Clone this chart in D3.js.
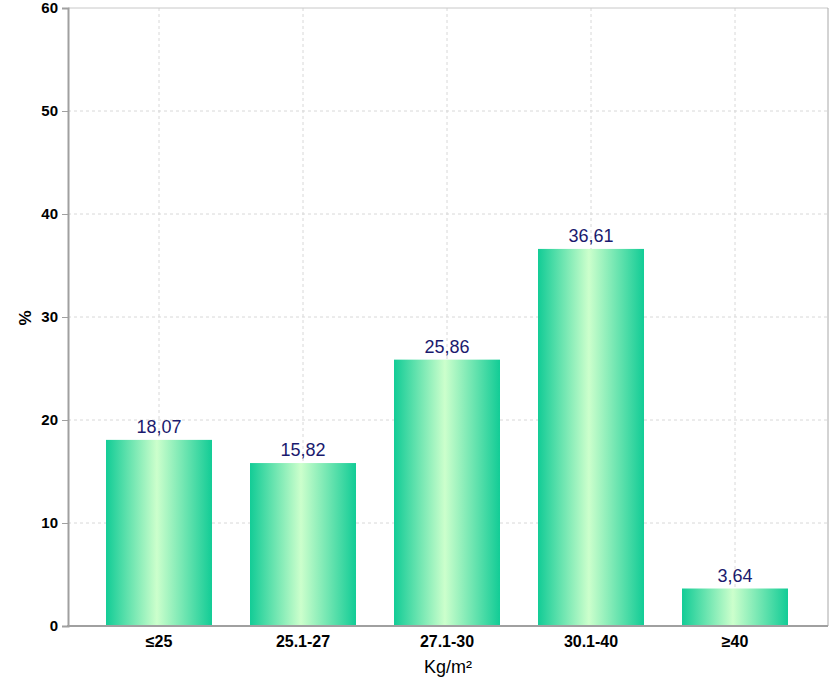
<!DOCTYPE html>
<html><head><meta charset="utf-8">
<script src="https://cdn.jsdelivr.net/npm/d3@7"></script>
<style>body{margin:0;background:#fff}text{font-family:"Liberation Sans",Arial,sans-serif}</style>
</head><body>
<svg id="c" width="838" height="690"></svg>
<script>
const categories = ["≤25","25.1-27","27.1-30","30.1-40","≥40"];
const values = [18.07,15.82,25.86,36.61,3.64];
const valueLabels = ["18,07","15,82","25,86","36,61","3,64"];
const yTicks = [0,10,20,30,40,50,60];

const svg = d3.select("#c");
const L=68, R=828, T=8, B=626;
const x = d3.scaleBand().domain(categories).range([87,807]).paddingInner(0.264).paddingOuter(0.132);
const y = d3.scaleLinear().domain([0,60]).range([B,T]);

const defs = svg.append("defs");
const g = defs.append("linearGradient").attr("id","bg").attr("x1","0%").attr("x2","100%").attr("y1","0%").attr("y2","0%");
g.append("stop").attr("offset","0%").attr("stop-color","#12cc96");
g.append("stop").attr("offset","48%").attr("stop-color","#ccffcc");
g.append("stop").attr("offset","100%").attr("stop-color","#12cc96");

// grid
svg.append("g").selectAll("line").data(yTicks.filter(d=>d>0&&d<60)).join("line")
  .attr("x1",L).attr("x2",R).attr("y1",d=>y(d)).attr("y2",d=>y(d))
  .attr("stroke","#d8d8d8").attr("stroke-dasharray","3,3");
svg.append("g").selectAll("line").data(categories).join("line")
  .attr("x1",d=>x(d)+x.bandwidth()/2).attr("x2",d=>x(d)+x.bandwidth()/2).attr("y1",T).attr("y2",B)
  .attr("stroke","#d8d8d8").attr("stroke-dasharray","3,3");
// frame top/right
svg.append("line").attr("x1",L).attr("x2",R).attr("y1",T).attr("y2",T).attr("stroke","#c8c8c8");
svg.append("line").attr("x1",R).attr("x2",R).attr("y1",T).attr("y2",B).attr("stroke","#a8a8a8");

// bars
svg.append("g").selectAll("rect").data(values).join("rect")
  .attr("x",(d,i)=>x(categories[i])).attr("width",x.bandwidth())
  .attr("y",d=>y(d)).attr("height",d=>B-y(d)).attr("fill","url(#bg)");

// value labels
svg.append("g").selectAll("text").data(values).join("text")
  .attr("x",(d,i)=>x(categories[i])+x.bandwidth()/2).attr("y",d=>y(d)-7)
  .attr("text-anchor","middle").attr("font-size",18).attr("fill","#1a1a6e")
  .text((d,i)=>valueLabels[i]);

// axes
const ya = svg.append("g").attr("transform",`translate(${L},0)`)
  .call(d3.axisLeft(y).tickValues(yTicks).tickSize(6).tickPadding(4));
ya.select(".domain").attr("stroke","#a0a0a0").attr("stroke-width",2);
ya.selectAll(".tick line").attr("stroke","#a0a0a0");
ya.selectAll(".tick text").attr("font-size",15).attr("font-weight","bold").attr("fill","#000")
  .style("font-family","'Liberation Sans',Arial,sans-serif");

const xa = svg.append("g").attr("transform",`translate(0,${B})`)
  .call(d3.axisBottom(x).tickSize(0).tickPadding(0));
xa.select(".domain").remove();
xa.selectAll(".tick text").attr("dy",null).attr("y",21).attr("font-size",16).attr("font-weight","bold").attr("fill","#000")
  .style("font-family","'Liberation Sans',Arial,sans-serif");
svg.append("line").attr("x1",L-1).attr("x2",R).attr("y1",B).attr("y2",B).attr("stroke","#a0a0a0").attr("stroke-width",2);

svg.append("text").attr("x",448).attr("y",673).attr("text-anchor","middle").attr("font-size",18).attr("fill","#000").text("Kg/m²");
svg.append("text").attr("transform","translate(31,318) rotate(-90)").attr("text-anchor","middle")
  .attr("font-size",17).attr("font-weight","bold").attr("fill","#000").text("%");
</script>
</body></html>
